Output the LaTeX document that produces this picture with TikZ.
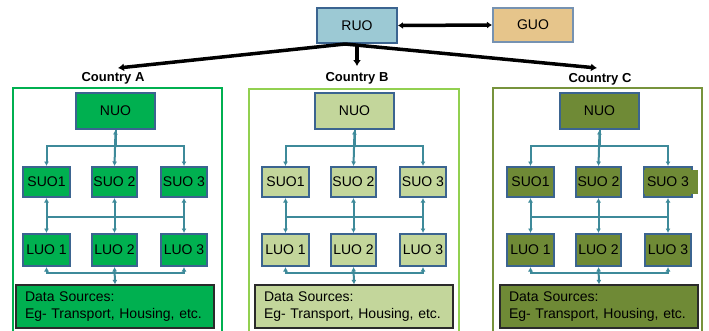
\documentclass[tikz,border=0pt]{standalone}
\usepackage{fontspec}
\setmainfont{Liberation Sans}
\usetikzlibrary{arrows.meta,calc}
\definecolor{nodeborder}{HTML}{3B6490}
\definecolor{linkteal}{HTML}{3E8A9A}
\definecolor{fillA}{HTML}{00B050}
\definecolor{fillB}{HTML}{C3D69B}
\definecolor{fillC}{HTML}{6F8A36}
\definecolor{edgeA}{HTML}{00B050}
\definecolor{edgeB}{HTML}{92D050}
\definecolor{edgeC}{HTML}{77933C}
\definecolor{ruofill}{HTML}{9CC9D4}
\definecolor{guofill}{HTML}{E6C58B}
\definecolor{databorder}{HTML}{2A2A2A}
\tikzset{
  unit/.style={draw=nodeborder, line width=2pt, font=\fontsize{14}{16}\selectfont, inner sep=0pt, text=black},
  link/.style={draw=linkteal, line width=2pt},
  >={Latex[length=4.5pt,width=5pt]},
  heavy/.style={line width=3.5pt, black},
  countrybox/.style={line width=2pt, fill=white},
  countrylabel/.style={font=\bfseries\fontsize{13}{15}\selectfont, inner sep=0pt},
  databox/.style={draw=databorder, line width=1.2pt, align=left, text width=180pt, inner xsep=9pt, inner ysep=0pt, minimum height=43pt, font=\fontsize{14}{17}\selectfont}
}
\newcommand{\mypanel}[4]{%
\begin{scope}[xshift=#2]
\node[unit, fill=#3, minimum width=79pt, minimum height=36pt] (#1nuo) at (115.5,111) {NUO};
\node[unit, fill=#3, minimum width=47pt, minimum height=30pt] (#1suoa) at (46.5,182) {SUO1};
\node[unit, fill=#3, minimum width=45pt, minimum height=30pt] (#1suob) at (114.5,182) {SUO 2};
\node[unit, fill=#3, minimum width=46pt, minimum height=30pt, #4] (#1suoc) at (184,182) {SUO 3};
\node[unit, fill=#3, minimum width=47pt, minimum height=32pt] (#1luoa) at (46.5,250) {LUO 1};
\node[unit, fill=#3, minimum width=45pt, minimum height=32pt] (#1luob) at (114.5,250) {LUO 2};
\node[unit, fill=#3, minimum width=46pt, minimum height=32pt] (#1luoc) at (184,250) {LUO 3};
\node[databox, fill=#3] (#1data) at (115,306.5) {Data Sources:\\Eg- Transport, Housing, etc.};
\draw[link,<->] (#1nuo.south) -- (#1suob.north);
\draw[link,->] (#1nuo.south) -- ++(0,16) -| (#1suoa.north);
\draw[link,->] (#1nuo.south) -- ++(0,16) -| (#1suoc.north);
\draw[link,<->] (#1suoa.south) -- (#1luoa.north);
\draw[link,<->] (#1suob.south) -- (#1luob.north);
\draw[link,<->] (#1suoc.south) -- (#1luoc.north);
\draw[link] ($(#1suoa.south)!0.55!(#1luoa.north)$) -- ($(#1suoc.south)!0.55!(#1luoc.north)$);
\draw[link,<->] (#1luoa.south) -- ++(0,6) -| (#1luoc.south);
\draw[link,<->] (#1luob.south) -- (#1data.north);
\end{scope}}
\begin{document}
\begin{tikzpicture}[x=1pt,y=-1pt]
\useasboundingbox (0,0) rectangle (709,330);
% country frames
\draw[countrybox, draw=edgeA] (12.7,88) rectangle (221.7,336);
\draw[countrybox, draw=edgeB] (249,89) rectangle (459,336);
\draw[countrybox, draw=edgeC] (493,88) rectangle (702,336);
% top level
\node[unit, fill=ruofill, draw=nodeborder, minimum width=80pt, minimum height=35pt] (ruo) at (357,25.5) {RUO};
\node[unit, fill=guofill, draw=nodeborder!70, minimum width=80pt, minimum height=34pt] (guo) at (533,25) {GUO};
\node[countrylabel] (ca) at (113,78) {Country A};
\node[countrylabel] (cb) at (357,78) {Country B};
\node[countrylabel] (cc) at (600,79) {Country C};
\coordinate (ta) at (118,68);
\coordinate (tb) at (357,66);
\coordinate (tc) at (597,68);
\draw[heavy, {Latex[length=5pt,width=7pt]}-{Latex[length=5pt,width=7pt]}] (ruo.east) -- (guo.west);
\draw[heavy, -{Latex[length=6pt,width=8pt]}] ([xshift=-12pt]ruo.south) -- (ta);
\draw[heavy, -{Latex[length=6pt,width=8pt]}] ([xshift=-12pt]ruo.south) -- (tc);
\draw[heavy, -{Latex[length=6pt,width=8pt]}] (ruo.south) -- (tb);
% odd SUO 3 box of country C
\filldraw[fill=fillC, draw=nodeborder, line width=2pt] (644,167) rectangle (692,197);
\fill[fillC] (644,169.5) rectangle (698,194);
\mypanel{a}{0pt}{fillA}{}
\mypanel{b}{239pt}{fillB}{}
\mypanel{c}{484pt}{fillC}{draw=none, fill=none}
\end{tikzpicture}
\end{document}
